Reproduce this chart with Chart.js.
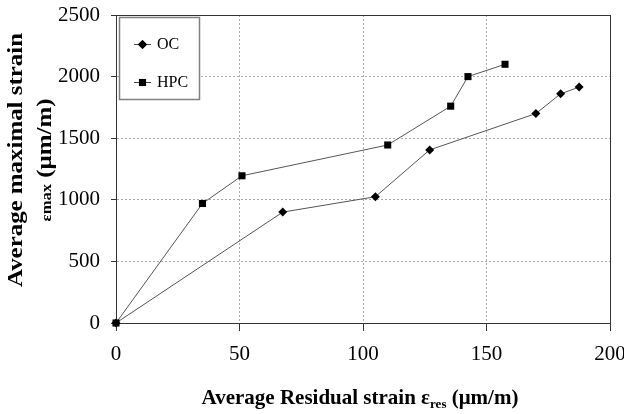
<!DOCTYPE html>
<html>
<head>
<meta charset="utf-8">
<script src="https://cdn.jsdelivr.net/npm/chart.js@4/dist/chart.umd.min.js"></script>
<style>
  html, body { margin: 0; padding: 0; background: #fff; }
  #wrap { width: 624px; height: 414px; position: relative; }
</style>
</head>
<body>
<div id="wrap"><canvas id="c" width="624" height="414"></canvas></div>
<script>
// ---- data ----
const seriesNames = ['OC', 'HPC'];
const ocX  = [0, 67.5, 105, 127, 170, 180, 187.5];
const ocY  = [0, 900, 1025, 1405, 1700, 1860, 1915];
const hpcX = [0, 35, 51, 110, 135.5, 142.5, 157.5];
const hpcY = [0, 970, 1195, 1445, 1760, 2000, 2100];
const xTicks = [0, 50, 100, 150, 200];
const yTicks = [0, 500, 1000, 1500, 2000, 2500];

const SERIF = '"Liberation Serif", "Times New Roman", Times, serif';

function toPoints(xs, ys) { return xs.map((x, i) => ({ x: x, y: ys[i] })); }

const framePlugin = {
  id: 'frame',
  beforeDatasetsDraw(chart) {
    const { ctx, chartArea: a } = chart;
    ctx.save();
    ctx.strokeStyle = '#333';
    ctx.lineWidth = 1;
    ctx.setLineDash([]);
    ctx.strokeRect(Math.round(a.left) + 0.5, Math.round(a.top) + 0.5,
                   Math.round(a.right - a.left), Math.round(a.bottom - a.top));
    ctx.restore();
  },
  afterDatasetsDraw(chart) {
    const { ctx } = chart;
    ctx.save();
    ctx.fillStyle = '#fff';
    ctx.fillRect(119, 17, 80, 82);
    ctx.strokeStyle = '#808080';
    ctx.lineWidth = 1.5;
    ctx.strokeRect(119.5, 17.5, 80, 82);
    const entries = [
      { name: seriesNames[0], style: 'rectRot', r: 4.5, y: 44 },
      { name: seriesNames[1], style: 'rect', r: 5, y: 82 }
    ];
    entries.forEach(e => {
      ctx.strokeStyle = '#444';
      ctx.lineWidth = 1;
      ctx.beginPath();
      ctx.moveTo(134, e.y + 0.5);
      ctx.lineTo(151, e.y + 0.5);
      ctx.stroke();
      ctx.fillStyle = '#000';
      Chart.helpers.drawPoint(ctx, { pointStyle: e.style, radius: e.r, rotation: 0, borderWidth: 0 }, 142.5, e.y + 0.5);
      ctx.fill();
      ctx.fillStyle = '#000';
      ctx.font = '16px ' + SERIF;
      ctx.textBaseline = 'alphabetic';
      ctx.textAlign = 'left';
      ctx.fillText(e.name, 157, e.y + 5);
    });
    ctx.restore();
  },
  afterDraw(chart) {
    const { ctx } = chart;
    ctx.save();
    ctx.fillStyle = '#000';
    ctx.textBaseline = 'alphabetic';
    ctx.textAlign = 'left';
    function measureRuns(runs) {
      let total = 0;
      runs.forEach(r => { ctx.font = r.f; r.w = ctx.measureText(r.t).width; total += r.w; });
      return total;
    }
    function drawRuns(runs, cx, baseY) {
      const total = measureRuns(runs);
      let x = cx - total / 2;
      runs.forEach(r => { ctx.font = r.f; ctx.fillText(r.t, x, baseY + (r.dy || 0)); x += r.w; });
    }
    // x-axis title
    drawRuns([
      { t: 'Average Residual strain ε', f: 'bold 21px ' + SERIF },
      { t: 'res', f: 'bold 13px ' + SERIF, dy: 4 },
      { t: ' (μm/m)', f: 'bold 21px ' + SERIF }
    ], 360, 404);
    // y-axis title (two lines, rotated, slightly stretched along its length like the reference)
    const line1 = [{ t: 'Average maximal strain', f: 'bold 21px ' + SERIF }];
    const line2 = [
      { t: 'εmax', f: 'bold 14px ' + SERIF },
      { t: ' (μm/m)', f: 'bold 21px ' + SERIF }
    ];
    const stretch = 254 / measureRuns(line1);
    ctx.save();
    ctx.translate(22, 160);
    ctx.rotate(-Math.PI / 2);
    ctx.scale(stretch, 1);
    drawRuns(line1, 0, 0);
    ctx.restore();
    ctx.save();
    ctx.translate(51, 160);
    ctx.rotate(-Math.PI / 2);
    ctx.scale(stretch, 1);
    drawRuns(line2, 0, 0);
    ctx.restore();
    ctx.restore();
  }
};

new Chart(document.getElementById('c'), {
  type: 'scatter',
  data: {
    datasets: [
      {
        label: seriesNames[0],
        data: toPoints(ocX, ocY),
        showLine: true,
        borderColor: '#555',
        borderWidth: 1,
        pointStyle: 'rectRot',
        pointRadius: 4.5,
        pointHoverRadius: 4.5,
        pointBackgroundColor: '#000',
        pointBorderColor: '#000',
        pointBorderWidth: 0,
        clip: false,
        order: 1
      },
      {
        label: seriesNames[1],
        data: toPoints(hpcX, hpcY),
        showLine: true,
        borderColor: '#555',
        borderWidth: 1,
        pointStyle: 'rect',
        pointRadius: 5,
        pointHoverRadius: 5,
        pointBackgroundColor: '#000',
        pointBorderColor: '#000',
        pointBorderWidth: 0,
        clip: false,
        order: 0
      }
    ]
  },
  options: {
    responsive: false,
    animation: false,
    events: [],
    layout: { padding: { top: 15, right: 14, left: 0, bottom: 0 } },
    plugins: { legend: { display: false }, tooltip: { enabled: false } },
    scales: {
      x: {
        type: 'linear',
        min: xTicks[0],
        max: xTicks[xTicks.length - 1],
        afterBuildTicks(scale) { scale.ticks = xTicks.map(v => ({ value: v })); },
        afterFit(scale) { scale.height = 91; scale.paddingLeft = 0; scale.paddingRight = 0; },
        ticks: { font: { family: SERIF, size: 21 }, color: '#000', padding: 11, maxRotation: 0, autoSkip: false,
                 callback: v => String(v) },
        grid: { color: '#aaa', lineWidth: 1, tickLength: 8, tickColor: '#333', drawOnChartArea: true },
        border: { display: true, color: '#333', dash: [2, 2] }
      },
      y: {
        type: 'linear',
        min: yTicks[0],
        max: yTicks[yTicks.length - 1],
        afterBuildTicks(scale) { scale.ticks = yTicks.map(v => ({ value: v })); },
        afterFit(scale) { scale.width = 116; scale.paddingTop = 0; scale.paddingBottom = 0; },
        ticks: { font: { family: SERIF, size: 21 }, color: '#000', padding: 11, autoSkip: false,
                 callback: v => String(v) },
        grid: { color: '#aaa', lineWidth: 1, tickLength: 5, tickColor: '#333', drawOnChartArea: true },
        border: { display: true, color: '#333', dash: [2, 2] }
      }
    }
  },
  plugins: [framePlugin]
});
</script>
</body>
</html>
